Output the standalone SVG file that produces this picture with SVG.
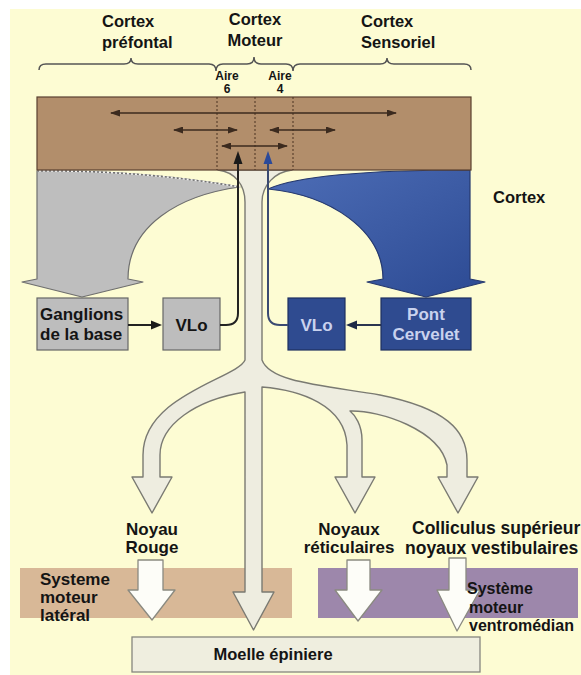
<svg xmlns="http://www.w3.org/2000/svg" width="581" height="675" viewBox="0 0 581 675">
<defs>
<style>
.t{font-family:"Liberation Sans",Arial,Helvetica,sans-serif;font-weight:bold;font-size:16.5px;fill:#141414}
.ts{font-size:12px}
.tl{font-size:17px}
.tv{font-size:16px}
.tc{font-size:17.5px}
.tb{fill:#C9D2EE}
.brn{stroke:#3B2A1E;stroke-width:1.6;fill:none;marker-start:url(#ah);marker-end:url(#ah)}
.dot{stroke:#4A3322;stroke-width:1;stroke-dasharray:2 2;fill:none}
.hol{fill:#FDFDF8;stroke:#8A8A80;stroke-width:1.3;stroke-linejoin:round}
</style>
<marker id="ah" viewBox="0 0 10 7" markerWidth="10" markerHeight="7" refX="9" refY="3.5" orient="auto-start-reverse" markerUnits="userSpaceOnUse">
<path d="M0,0 L10,3.5 L0,7 Z" fill="#3B2A1E"/>
</marker>
<linearGradient id="blueg" x1="0" y1="0" x2="1" y2="1">
<stop offset="0" stop-color="#4D6DB6"/>
<stop offset="1" stop-color="#2C4A93"/>
</linearGradient>
</defs>

<rect x="0" y="0" width="581" height="675" fill="#FFFFFF"/>
<rect x="10" y="9" width="571" height="666" fill="#FDFCD3"/>

<g id="bands">
<rect id="band-lateral" x="20" y="568" width="272" height="50" fill="#D8B897"/>
<rect id="band-ventro" x="318" y="568" width="260" height="50" fill="#9D87AB"/>
</g>

<g id="trunk">
<path d="M218,170 C235,172 245,185 245,202 V360 C238,378 143,395 143,455 V477 H132 L152,513 L172,477 H160 V455 C160,425 195,400 245,392 V592 H233 L253.5,630 L274,592 H262 V387 C300,390 345,405 347,445 V477 H335 L355,513 L375,477 H362 V440 C362,425 355,415 350,411 C380,410 440,430 447,465 V477 H438 L458,513 L478,477 H467 V460 C467,430 445,408 380,395 C320,385 270,382 262,360 V202 C262,185 275,172 292,170 Z" fill="#EEEDE0" stroke="#7A7A72" stroke-width="1.4" stroke-linejoin="round"/>
</g>

<g id="gray-pathway">
<path d="M37,171 Q140,170 240,187 C180,195 128,225 128,279 L143,282 L82,297 L22,282 L37,279 Z" fill="#BEBEBE" stroke="#6E6E6E" stroke-width="1.2" stroke-linejoin="round"/>
<path d="M37,171 Q140,170 240,187" fill="none" stroke="#F2F2F2" stroke-width="1.6"/>
<path d="M37,171 Q140,170 240,187" fill="none" stroke="#707070" stroke-width="1.6" stroke-dasharray="2 2"/>
</g>

<g id="blue-pathway">
<path d="M268,189 Q310,170 470,170 V279 L485,282 L426,297 L367,282 L383,279 C383,230 330,195 268,189 Z" fill="url(#blueg)" stroke="#26396E" stroke-width="1.2" stroke-linejoin="round"/>
</g>

<g id="cortex">
<rect x="37" y="97" width="434" height="73" fill="#B28E6B" stroke="#5A4030" stroke-width="1.2"/>
<line class="dot" x1="217" y1="97" x2="217" y2="170"/>
<line class="dot" x1="255" y1="97" x2="255" y2="170"/>
<line class="dot" x1="293" y1="97" x2="293" y2="170"/>
<line class="brn" x1="111" y1="113" x2="396" y2="113"/>
<line class="brn" x1="174" y1="130" x2="237" y2="130"/>
<line class="brn" x1="270" y1="130" x2="335" y2="130"/>
<line class="brn" x1="222" y1="146" x2="287" y2="146"/>
</g>

<g id="node-ganglions">
<rect x="37" y="298" width="91" height="52" fill="#BDBDBD" stroke="#666" stroke-width="1.2"/>
<text class="t tl" x="40" y="320">Ganglions</text>
<text class="t tl" x="40" y="340">de la base</text>
</g>
<g id="node-vlo-gray">
<rect x="163" y="298" width="57" height="52" fill="#BDBDBD" stroke="#666" stroke-width="1.2"/>
<text class="t tl" x="191.5" y="331" text-anchor="middle">VLo</text>
</g>
<g id="node-vlo-blue">
<rect x="288" y="298" width="57" height="52" fill="#2F4B90" stroke="#1E2F60" stroke-width="1.2"/>
<text class="t tl tb" x="316.5" y="331" text-anchor="middle">VLo</text>
</g>
<g id="node-pont">
<rect x="381" y="298" width="90" height="52" fill="#2F4B90" stroke="#1E2F60" stroke-width="1.2"/>
<text class="t tl tb" x="426" y="320" text-anchor="middle">Pont</text>
<text class="t tl tb" x="426" y="340" text-anchor="middle">Cervelet</text>
</g>

<g id="connectors">
<path d="M220,325 H226 Q238,325 238,313 V162" fill="none" stroke="#222" stroke-width="2"/>
<polygon points="238,151 242.5,164 233.5,164" fill="#1A1A1A"/>
<path d="M288,325 H280 Q268,325 268,313 V162" fill="none" stroke="#3A4A72" stroke-width="2"/>
<polygon points="268,151 272.5,164 263.5,164" fill="#2B4A9A"/>
<line x1="128" y1="325" x2="153" y2="325" stroke="#222" stroke-width="2"/>
<polygon points="162,325 151,320.5 151,329.5" fill="#1A1A1A"/>
<line x1="381" y1="325" x2="355" y2="325" stroke="#2A3550" stroke-width="2"/>
<polygon points="346,325 357,320.5 357,329.5" fill="#1E2A48"/>
<path class="hol" d="M138,560 H163 V590 H175 L152,620 L128,590 H138 Z"/>
<path class="hol" d="M347,560 H370 V590 H382 L358,621 L335,590 H347 Z"/>
<path class="hol" d="M449,558 H466 V590 H480 L457,631 L437,590 H449 Z"/>
</g>

<g id="node-moelle">
<rect x="132" y="637" width="348" height="35" fill="#EFEEDF" stroke="#86867E" stroke-width="1.3"/>
<text class="t" x="273" y="660" text-anchor="middle">Moelle épiniere</text>
</g>

<g id="labels">
<path d="M39,70 Q39,64 46,64 H124 Q131,64 131,58 Q131,64 138,64 H209 Q216,64 216,71 Q216,64 223,64 H247 Q254,64 254,57 Q254,64 261,64 H286 Q293,64 293,71 Q293,64 300,64 H380 Q387,64 387,58 Q387,64 394,64 H464 Q471,64 471,70" fill="none" stroke="#555" stroke-width="1.5"/>
<text class="t" x="102" y="27">Cortex</text>
<text class="t" x="102" y="48">préfontal</text>
<text class="t" x="255" y="25" text-anchor="middle">Cortex</text>
<text class="t" x="255" y="46" text-anchor="middle">Moteur</text>
<text class="t" x="361" y="27">Cortex</text>
<text class="t" x="361" y="48">Sensoriel</text>
<text class="t ts" x="227" y="80" text-anchor="middle">Aire</text>
<text class="t ts" x="227" y="93" text-anchor="middle">6</text>
<text class="t ts" x="280" y="80" text-anchor="middle">Aire</text>
<text class="t ts" x="280" y="93" text-anchor="middle">4</text>
<text class="t" x="493" y="203">Cortex</text>
<text class="t tl" x="152" y="535" text-anchor="middle">Noyau</text>
<text class="t tl" x="152" y="553" text-anchor="middle">Rouge</text>
<text class="t tl" x="349" y="535" text-anchor="middle">Noyaux</text>
<text class="t tl" x="349" y="553" text-anchor="middle">réticulaires</text>
<text class="t tc" x="412" y="534">Colliculus supérieur</text>
<text class="t tc" x="405" y="554">noyaux vestibulaires</text>
<text class="t tl" x="40" y="585">Systeme</text>
<text class="t tl" x="40" y="603">moteur</text>
<text class="t tl" x="40" y="621">latéral</text>
<text class="t tv" x="467" y="594">Système</text>
<text class="t tv" x="469" y="612.5">moteur</text>
<text class="t tv" x="469" y="631">ventromédian</text>
</g>
</svg>
